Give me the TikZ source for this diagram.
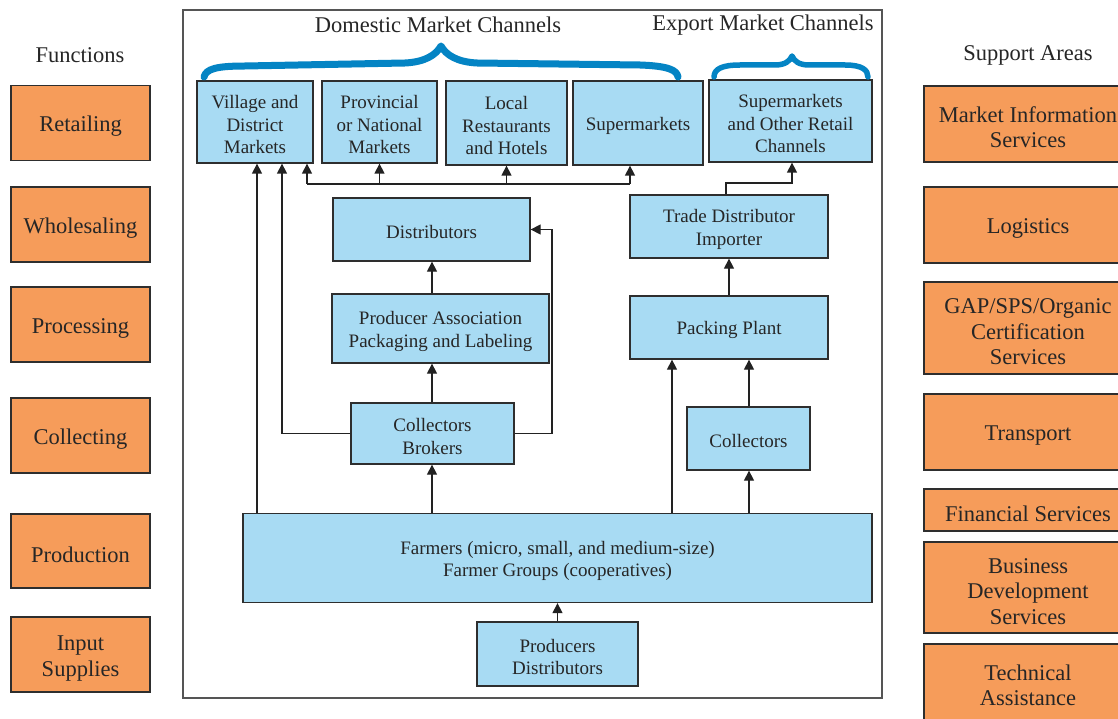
\documentclass[tikz,border=0pt]{standalone}
\usepackage{fontspec}
\setmainfont{Liberation Serif}
\usetikzlibrary{arrows.meta}
\definecolor{bluefill}{HTML}{A8DBF3}
\definecolor{orangefill}{HTML}{F69C5A}
\definecolor{boxline}{HTML}{2E2E2E}
\definecolor{txt}{HTML}{262626}
\definecolor{lin}{HTML}{222222}
\definecolor{bracecol}{HTML}{0484C4}
\definecolor{framecol}{HTML}{555555}
\newcommand\bst{\rule{0pt}{19pt}}
\newcommand\ost{\rule{0pt}{22.5pt}}
\tikzset{
  bx/.style={draw=boxline, line width=1.3pt, fill=bluefill, inner sep=0pt, align=center,
    font=\fontsize{19}{22.5}\selectfont, text=txt},
  fx/.style={draw=boxline, line width=1.3pt, fill=orangefill, inner sep=0pt, align=center,
    font=\fontsize{22.5}{25.5}\selectfont, text=txt},
  hd/.style={inner sep=0pt, font=\fontsize{22.5}{26}\selectfont, text=txt},
  arr/.style={draw=lin, line width=1.3pt, -{Triangle[width=10pt,length=10pt]}},
  ln/.style={draw=lin, line width=1.3pt},
  bracestyle/.style={draw=bracecol, line width=7pt, line cap=round, line join=round},
  framestyle/.style={draw=framecol, line width=1.3pt}
}
\begin{document}
\begin{tikzpicture}[x=1pt,y=-1pt]
\useasboundingbox (0,0) rectangle (1118,719);
\clip (0,0) rectangle (1118,719);
\fill[white] (0,0) rectangle (1118,719);

% main frame
\draw[framestyle] (183,10) rectangle (882,698);

% headings
\node[hd] (hfun) at (80,55) {Functions};
\node[hd] (hsup) at (1028,55) {Support Areas};
\node[hd] (hdom) at (438,25) {Domestic Market Channels};
\node[hd] (hexp) at (763,25) {Export Market Channels};

% function boxes
\node[fx, minimum width=139pt, minimum height=75pt] (ret) at (80.5,123) {\ost Retailing};
\node[fx, minimum width=139pt, minimum height=75pt] (who) at (80.5,224.5) {\ost Wholesaling};
\node[fx, minimum width=139pt, minimum height=75pt] (pro) at (80.5,324.5) {\ost Processing};
\node[fx, minimum width=139pt, minimum height=75pt] (col) at (80.5,435.5) {\ost Collecting};
\node[fx, minimum width=139pt, minimum height=74pt] (prd) at (80.5,551) {\ost Production};
\node[fx, minimum width=139pt, minimum height=75pt] (inp) at (80.5,654.5) {\ost Input\\Supplies};

% support boxes
\node[fx, minimum width=208pt, minimum height=76pt] (mis) at (1028,124) {\ost Market Information\\Services};
\node[fx, minimum width=208pt, minimum height=76pt] (log) at (1028,225) {\ost Logistics};
\node[fx, minimum width=208pt, minimum height=92pt] (gap) at (1028,328) {\ost GAP/SPS/Organic\\Certification\\Services};
\node[fx, minimum width=208pt, minimum height=76pt] (tra) at (1028,432) {\ost Transport};
\node[fx, minimum width=208pt, minimum height=42pt] (fin) at (1028,510) {\ost Financial Services};
\node[fx, minimum width=208pt, minimum height=91pt] (bds) at (1028,587.5) {\ost Business\\Development\\Services};
\node[fx, minimum width=208pt, minimum height=76pt] (tec) at (1028,682) {\ost Technical\\Assistance};

% market boxes
\node[bx, minimum width=116pt, minimum height=82pt] (vil) at (255,122) {\bst Village and\\District\\Markets};
\node[bx, minimum width=115pt, minimum height=82pt] (prov) at (379.5,122) {\bst Provincial\\or National\\Markets};
\node[bx, minimum width=121pt, minimum height=84pt] (loc) at (506.5,123) {\bst Local\\Restaurants\\and Hotels};
\node[bx, minimum width=130pt, minimum height=84pt] (sup) at (638,123) {\bst Supermarkets};
\node[bx, minimum width=163pt, minimum height=82pt] (exp) at (790.5,121) {\bst Supermarkets\\and Other Retail\\Channels};

% middle boxes
\node[bx, minimum width=197pt, minimum height=63pt] (dist) at (431.5,229.5) {\bst Distributors};
\node[bx, minimum width=217pt, minimum height=69pt] (pa) at (440.5,328.5) {\bst Producer Association\\Packaging and Labeling};
\node[bx, minimum width=163pt, minimum height=61pt] (cb) at (432.5,433.5) {\bst Collectors\\Brokers};
\node[bx, minimum width=198pt, minimum height=63pt] (trade) at (729,226.5) {\bst Trade Distributor\\Importer};
\node[bx, minimum width=198pt, minimum height=63pt] (pack) at (729,327.5) {\bst Packing Plant};
\node[bx, minimum width=123pt, minimum height=63pt] (coll) at (748.5,438.5) {\bst Collectors};
\node[bx, minimum width=629pt, minimum height=89pt] (farm) at (557.5,558) {\bst Farmers (micro, small, and medium-size)\\Farmer Groups (cooperatives)};
\node[bx, minimum width=161pt, minimum height=64pt] (pd) at (557.5,654) {\bst Producers\\Distributors};

% braces
\draw[bracestyle] (204,77) .. controls (206,69) and (216,66) .. (245,66)
  -- (405,63) .. controls (425,62) and (436,55) .. (441,46)
  .. controls (446,55) and (457,62) .. (477,63)
  -- (640,65) .. controls (668,66) and (677,70) .. (678,77);
\draw[bracestyle, line width=5.5pt] (714,77) .. controls (714,69) and (722,65) .. (740,65)
  -- (775,65) .. controls (785,65) and (790,61) .. (792,56)
  .. controls (794,61) and (799,65) .. (809,65)
  -- (845,65) .. controls (862,65) and (868,70) .. (868,77);

% helper coordinates
\coordinate (xa) at (257,0);
\coordinate (xb) at (282,0);
\coordinate (xc) at (552,0);
\coordinate (xd) at (307,0);
\coordinate (xe) at (630,0);
\coordinate (xf) at (432,0);
\coordinate (xg) at (672,0);
\coordinate (xh) at (749,0);
\coordinate (xi) at (729,0);
\coordinate (xj) at (726,0);
\coordinate (xk) at (792,0);
\coordinate (busy) at (0,184);
\coordinate (expy) at (0,183);

% connectors
\draw[arr] (xa |- farm.north) -- (xa |- vil.south);
\draw[arr] (cb.west) -| (xb |- vil.south);
\draw[arr] (cb.east) -- (cb.east -| xc) |- (dist.east);
\draw[ln] (xd |- busy) -- (xe |- busy);
\draw[arr] (xd |- busy) -- (xd |- vil.south);
\draw[arr] (prov.south |- busy) -- (prov.south);
\draw[arr] (loc.south |- busy) -- (loc.south);
\draw[arr] (xe |- busy) -- (xe |- sup.south);
\draw[arr] (xf |- pa.north) -- (xf |- dist.south);
\draw[arr] (xf |- cb.north) -- (xf |- pa.south);
\draw[arr] (xf |- farm.north) -- (xf |- cb.south);
\draw[arr] (xg |- farm.north) -- (xg |- pack.south);
\draw[arr] (xh |- farm.north) -- (xh |- coll.south);
\draw[arr] (xh |- coll.north) -- (xh |- pack.south);
\draw[arr] (xi |- pack.north) -- (xi |- trade.south);
\draw[arr] (xj |- trade.north) -- (xj |- expy) -- (xk |- expy) -- (xk |- exp.south);
\draw[arr] (pd.north) -- (pd.north |- farm.south);
\end{tikzpicture}
\end{document}
